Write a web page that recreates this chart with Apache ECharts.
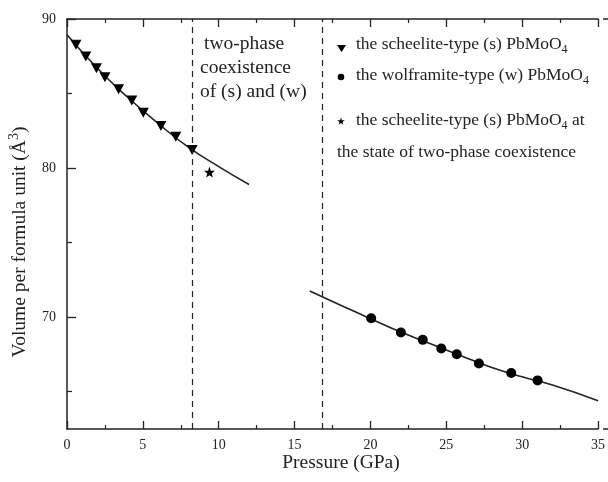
<!DOCTYPE html>
<html><head><meta charset="utf-8">
<script src="https://cdn.jsdelivr.net/npm/echarts@6/dist/echarts.min.js"></script>
<style>html,body{margin:0;padding:0;background:#fff}#c{width:608px;height:482px}</style>
</head><body><div id="c"></div>
<script>
// Data
var scheeliteP = [0.59, 1.24, 1.94, 2.50, 3.40, 4.27, 5.03, 6.19, 7.17, 8.25];
var scheeliteV = [88.27, 87.49, 86.70, 86.10, 85.29, 84.53, 83.72, 82.83, 82.11, 81.21];
var wolframiteP = [20.05, 22.01, 23.45, 24.67, 25.69, 27.15, 29.28, 31.02];
var wolframiteV = [69.93, 68.97, 68.48, 67.90, 67.51, 66.89, 66.26, 65.76];
var coexistP = [9.39];
var coexistV = [79.73];
var fitSP = [0, 2, 4, 6, 8, 10, 12];
var fitSV = [88.95, 86.70, 84.75, 83.00, 81.40, 80.10, 78.90];
var fitWP = [16, 18, 20, 22, 24, 26, 28, 30, 32, 35];
var fitWV = [71.75, 70.82, 69.90, 69.00, 68.20, 67.40, 66.62, 66.00, 65.45, 64.40];
var phaseBounds = [8.25, 16.8];
var yMajorTicks = [70, 80, 90];
var yMinorTicks = [65, 75, 85];

function pairs(a, b) { return a.map(function (v, i) { return [v, b[i]]; }); }

var FONT = '"Liberation Serif", "DejaVu Serif", serif';
var INK = '#222';
var STAR = 'path://M0,-10 L2.35,-3.24 L9.51,-3.09 L3.8,1.24 L5.88,8.09 L0,4 L-5.88,8.09 L-3.8,1.24 L-9.51,-3.09 L-2.35,-3.24 Z';
var starPts = [[0, -10], [2.35, -3.24], [9.51, -3.09], [3.8, 1.24], [5.88, 8.09], [0, 4], [-5.88, 8.09], [-3.8, 1.24], [-9.51, -3.09], [-2.35, -3.24]]
  .map(function (p) { return [341 + p[0] * 0.4, 121.5 + p[1] * 0.4]; });
var chart = echarts.init(document.getElementById('c'));
var axisLine = { show: true, lineStyle: { color: INK, width: 1.5 } };
var rich = {
  sub: { fontSize: 12, fontFamily: FONT, color: INK, padding: [11, 0, 0, 0] },
  sup: { fontSize: 14, fontFamily: FONT, color: INK, padding: [0, 0, 12, 0] }
};
function txt(x, y, s, size) {
  return { type: 'text', left: x, top: y, style: { text: s, fontFamily: FONT, fontSize: size, fill: INK, rich: rich } };
}
chart.setOption({
  animation: false,
  grid: { left: 67, right: 5, top: 19, bottom: 53 },
  xAxis: [{
    type: 'value', min: 0, max: 35, interval: 5, position: 'bottom',
    axisLine: axisLine, splitLine: { show: false },
    axisTick: { inside: true, length: 8, lineStyle: { color: INK, width: 1.3 } },
    minorTick: { show: true, splitNumber: 2, length: 4, lineStyle: { color: INK, width: 1.2 } },
    axisLabel: { margin: 9, fontFamily: FONT, fontSize: 14, color: INK }
  }, {
    type: 'value', min: 0, max: 35, interval: 5, position: 'top',
    axisLine: axisLine, splitLine: { show: false },
    axisTick: { inside: true, length: 8, lineStyle: { color: INK, width: 1.3 } },
    minorTick: { show: true, splitNumber: 2, length: 4, lineStyle: { color: INK, width: 1.2 } },
    axisLabel: { show: false }
  }],
  yAxis: [{
    type: 'value', min: 62.5, max: 90, position: 'left',
    axisLine: axisLine, splitLine: { show: false },
    axisTick: { inside: true, length: 9, customValues: yMajorTicks, lineStyle: { color: INK, width: 1.3 } },
    axisLabel: { customValues: yMajorTicks, margin: 11, fontFamily: FONT, fontSize: 14, color: INK }
  }, {
    type: 'value', min: 62.5, max: 90, position: 'left', offset: 0,
    axisLine: { show: false }, splitLine: { show: false },
    axisTick: { inside: true, length: 5, customValues: yMinorTicks, lineStyle: { color: INK, width: 1.2 } },
    axisLabel: { show: false }
  }],
  series: [{
    type: 'line', data: pairs(fitSP, fitSV), smooth: true, symbol: 'none',
    lineStyle: { color: INK, width: 1.6 }, z: 2,
    markLine: {
      silent: true, symbol: 'none', label: { show: false },
      lineStyle: { color: INK, width: 1.2, type: [6, 5] },
      data: phaseBounds.map(function (p) { return { xAxis: p }; })
    }
  }, {
    type: 'line', data: pairs(fitWP, fitWV), smooth: true, symbol: 'none',
    lineStyle: { color: INK, width: 1.6 }, z: 2
  }, {
    type: 'scatter', data: pairs(scheeliteP, scheeliteV), symbol: 'triangle', symbolRotate: 180,
    symbolSize: [11, 10], itemStyle: { color: '#000', opacity: 1 }, z: 3
  }, {
    type: 'scatter', data: pairs(wolframiteP, wolframiteV), symbol: 'circle',
    symbolSize: 10, itemStyle: { color: '#000', opacity: 1 }, z: 3
  }, {
    type: 'scatter', data: pairs(coexistP, coexistV), symbol: STAR,
    symbolSize: 11, itemStyle: { color: '#000', opacity: 1 }, z: 3
  }],
  graphic: [
    { type: 'line', shape: { x1: 603, y1: 19, x2: 608, y2: 19 }, style: { stroke: INK, lineWidth: 1.5 } },
    { type: 'line', shape: { x1: 603, y1: 429, x2: 608, y2: 429 }, style: { stroke: INK, lineWidth: 1.5 } },
    txt(204, 34, 'two-phase', 19.5),
    txt(200, 58, 'coexistence', 19.5),
    txt(200, 82, 'of (s) and (w)', 19.5),
    { type: 'polygon', shape: { points: [[337, 45], [346, 45], [341.5, 52]] }, style: { fill: '#000' } },
    { type: 'circle', shape: { cx: 341, cy: 77, r: 3.3 }, style: { fill: '#000' } },
    { type: 'polygon', shape: { points: starPts }, style: { fill: '#000' } },
    txt(356, 35, 'the scheelite-type (s) PbMoO{sub|4}', 17.5),
    txt(356, 66, 'the wolframite-type (w) PbMoO{sub|4}', 17.5),
    txt(356, 111, 'the scheelite-type (s) PbMoO{sub|4} at', 17.5),
    txt(337, 143, 'the state of two-phase coexistence', 17.5),
    { type: 'text', x: 20, y: 242, rotation: Math.PI / 2,
      style: { text: 'Volume per formula unit (Å{sup|3})', fontFamily: FONT, fontSize: 19.5, fill: INK,
               align: 'center', verticalAlign: 'middle', rich: rich } },
    { type: 'text', x: 341, y: 463,
      style: { text: 'Pressure (GPa)', fontFamily: FONT, fontSize: 19.5, fill: INK, align: 'center', verticalAlign: 'middle' } }
  ]
});
</script></body></html>
